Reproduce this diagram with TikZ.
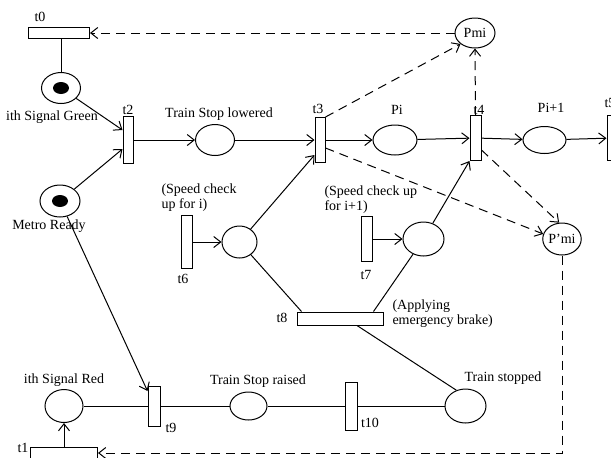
\documentclass[tikz,border=0pt]{standalone}
\usepackage{fontspec}
\setmainfont{Liberation Serif}
\usetikzlibrary{arrows.meta,shapes.geometric}

\begin{document}
\begin{tikzpicture}[
  x=0.5pt,y=-0.5pt,
  font=\fontsize{7}{7.5}\selectfont,
  line width=0.5pt,
  >={Straight Barb[length=3.5pt,width=5.5pt]},
  place/.style 2 args={draw,ellipse,inner sep=0pt,
                       minimum width=#1pt,minimum height=#2pt},
  trans/.style 2 args={draw,fill=white,rectangle,inner sep=0pt,
                       minimum width=#1pt,minimum height=#2pt},
  token/.style={fill=black,ellipse,inner sep=0pt,
                minimum width=8pt,minimum height=6pt},
  lbl/.style={inner sep=0pt},
  dsh/.style={dash pattern=on 4.5pt off 3pt}
]
\useasboundingbox (0,0) rectangle (611,457);
\clip (0,0) rectangle (611,457);

% places
\node[place={19.5}{15.5}] (green) at (61,88) {};
\node[token] (tokg) at (61,88) {};
\node[place={20}{16}] (metro) at (60,201) {};
\node[token] (tokm) at (60,201) {};
\node[place={19.5}{15.5}] (lowered) at (215,140) {};
\node[place={22}{15}] (pi) at (395,140) {};
\node[place={21.5}{13.5}] (pione) at (544.5,140) {};
\node[place={20}{15}] (pmi) at (475,33) {Pmi};
\node[place={17.5}{16}] (pmip) at (562,239) {P'mi};
\node[place={17.5}{16}] (spdi) at (239.5,242) {};
\node[place={20.5}{17}] (spdii) at (423.5,239) {};
\node[place={19}{16.5}] (red) at (64,406) {};
\node[place={18.5}{14}] (raised) at (248.5,406) {};
\node[place={20.5}{17}] (stopped) at (465.5,406) {};

% transitions
\node[trans={30.5}{5.5}] (t0) at (59,33) {};
\node[trans={33.5}{6}] (t1) at (64,453) {};
\node[trans={5}{23.5}] (t2) at (128,140) {};
\node[trans={5}{22.5}] (t3) at (320,140) {};
\node[trans={5.5}{22.5}] (t4) at (475.5,138) {};
\node[trans={6}{22.5}] (t5) at (613,138) {};
\node[trans={5.5}{26.5}] (t6) at (186.5,242) {};
\node[trans={5.5}{22.5}] (t7) at (366.5,239) {};
\node[trans={43}{6.5}] (t8) at (340,318.5) {};
\node[trans={6}{20}] (t9) at (154,406) {};
\node[trans={6}{24}] (t10) at (351,406) {};

% labels
\node[lbl] (lt0) at (40,17) {t0};
\node[lbl] (lgreen) at (52,117) {ith Signal Green};
\node[lbl] (lt2) at (128,110) {t2};
\node[lbl] (lmetro) at (49,226) {Metro Ready};
\node[lbl] (llowered) at (219,114) {Train Stop lowered};
\node[lbl] (lt3) at (318,109) {t3};
\node[lbl] (lpi) at (397,110) {Pi};
\node[lbl,anchor=west] (lt4) at (473,110) {t4};
\node[lbl] (lpione) at (551,108) {Pi+1};
\node[lbl,anchor=west] (lt5) at (604,103) {t5};
\node[lbl,anchor=west,align=left] (lspdi) at (161,197.5) {(Speed check\\up for i)};
\node[lbl] (lt6) at (183,279) {t6};
\node[lbl,anchor=west,align=left] (lspdii) at (324,199.5) {(Speed check up\\for i+1)};
\node[lbl] (lt7) at (366,275) {t7};
\node[lbl] (lt8) at (282,318) {t8};
\node[lbl,anchor=west,align=left] (lbrake) at (392,313.5) {(Applying\\emergency brake)};
\node[lbl] (lred) at (64,380) {ith Signal Red};
\node[lbl] (lt9) at (171,428) {t9};
\node[lbl] (lraised) at (258,381) {Train Stop raised};
\node[lbl] (lt10) at (370,423) {t10};
\node[lbl] (lstopped) at (503,378) {Train stopped};
\node[lbl] (lt1) at (23,448) {t1};

% arcs
\draw (green.north) -- (green.north |- t0.south);
\draw[->] (green) -- ([yshift=5pt]t2.west);
\draw[->] (metro) -- ([yshift=-4.5pt]t2.west);
\draw[->] (metro) -- ([yshift=7.5pt]t9.west);
\foreach \a/\b in {t2/lowered,lowered/t3,t3/pi,pi/t4,t4/pione,pione/t5}
  \draw[->] (\a) -- (\b);
\draw[dsh,->] (t3.north east) -- (pmi.south west);
\draw[dsh,->] (t4.north) -- (pmi.south);
\draw[dsh,->] (pmi) -- (t0);
\draw[dsh,->] ([yshift=-4pt]t3.east) -- (pmip.165);
\draw[dsh,->] ([yshift=-6pt]t4.east) -- (pmip.100);
\draw[dsh,->] (pmip) |- (t1);
\draw[->] (t1) -- (red);
\draw (red) -- (t9) -- (raised) -- (t10) -- (stopped);
\draw[->] (t6) -- (spdi);
\draw[->] (spdi) -- ([yshift=-7.5pt]t3.west);
\draw (spdi) -- ([xshift=2.5pt]t8.north west);
\draw[->] (t7) -- (spdii);
\draw[->] (spdii) -- (t4.south west);
\draw (spdii) -- ([xshift=-5pt]t8.north east);
\draw ([xshift=8.5pt]t8.south) -- (stopped.120);
\end{tikzpicture}
\end{document}
